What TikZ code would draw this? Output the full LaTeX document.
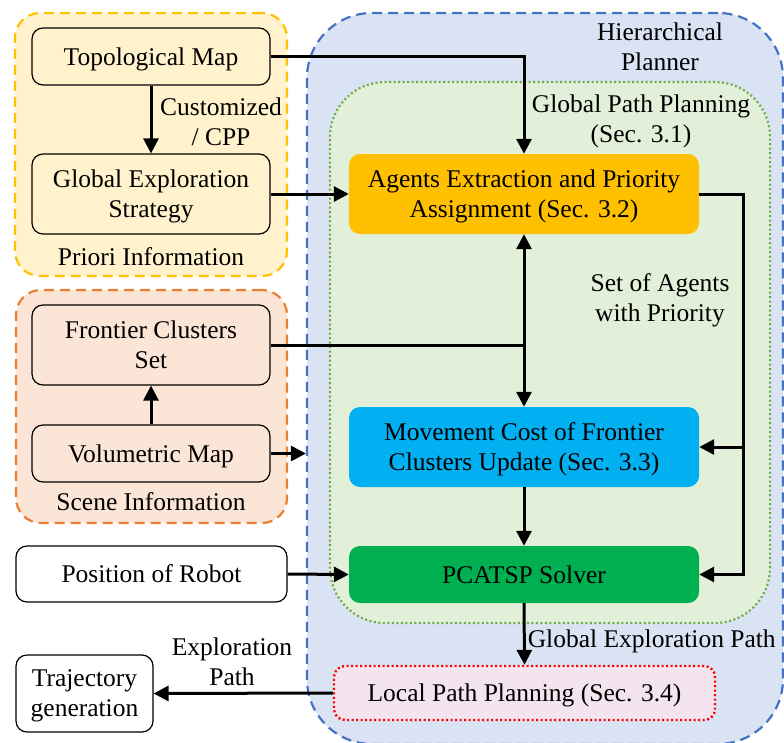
\documentclass[tikz,border=0pt]{standalone}
\usepackage{fontspec}
\setmainfont{Liberation Serif}
\usetikzlibrary{arrows.meta,positioning}
\definecolor{prioriFill}{HTML}{FFF2CC}
\definecolor{prioriLine}{HTML}{FFC000}
\definecolor{sceneFill}{HTML}{FBE5D6}
\definecolor{sceneLine}{HTML}{ED7D31}
\definecolor{plannerFill}{HTML}{DAE3F3}
\definecolor{plannerLine}{HTML}{4472C4}
\definecolor{globalFill}{HTML}{E2F0D9}
\definecolor{globalLine}{HTML}{70AD47}
\definecolor{agentsFill}{HTML}{FFC000}
\definecolor{moveFill}{HTML}{00B0F0}
\definecolor{solverFill}{HTML}{00B050}
\definecolor{localFill}{HTML}{F4E4EE}
\definecolor{localLine}{HTML}{FF0000}

\begin{document}
\begin{tikzpicture}[x=1pt, y=-1pt, >={Triangle[length=15pt,width=15pt]},
  font=\fontsize{25.5}{30}\selectfont,
  box/.style={draw=black, line width=1.2pt, rounded corners=11pt, align=center, inner sep=0pt, text depth=0pt},
  solidbox/.style={rounded corners=11pt, align=center, inner sep=0pt, text depth=0pt},
  group/.style={line width=2.2pt, dash pattern=on 10pt off 6pt, inner sep=0pt},
  dotgroup/.style={line width=2.2pt, dash pattern=on 2pt off 2.5pt, inner sep=0pt},
  link/.style={->, line width=3pt},
  ]
  \useasboundingbox (0,0) rectangle (784,742);

  % planner and global planning areas
  \node[group, draw=plannerLine, fill=plannerFill, rounded corners=65pt,
        minimum width=476pt, minimum height=731pt] (planner) at (545,378.5) {};
  \node[dotgroup, draw=globalLine, fill=globalFill, rounded corners=55pt,
        minimum width=440pt, minimum height=541pt] (global) at (550,352.5) {};
  \node at (660,47) [align=center] {Hierarchical\\Planner};
  \node at (641,121) [align=center] {Global Path Planning\\(Sec. 3.1)};

  % priori information
  \node[group, draw=prioriLine, fill=prioriFill, rounded corners=25pt,
        minimum width=272pt, minimum height=263pt] (priori) at (151,144.5) {};
  \node[box, fill=prioriFill, minimum width=238pt, minimum height=57pt] (topo) at (151,56.5) {Topological Map};
  \node[box, fill=prioriFill, minimum width=238pt, minimum height=80pt] (strat) at (151,194) {Global Exploration\\Strategy};
  \node at (151,257) {Priori Information};
  \node at (221,122) [align=center] {Customized\\/ CPP};

  % scene information
  \node[group, draw=sceneLine, fill=sceneFill, rounded corners=25pt,
        minimum width=271pt, minimum height=233pt] (scene) at (151.5,406.5) {};
  \node[box, fill=sceneFill, minimum width=238pt, minimum height=80pt] (frontier) at (151,345) {Frontier Clusters\\Set};
  \node[box, fill=sceneFill, minimum width=238pt, minimum height=57pt] (vol) at (151,453.5) {Volumetric Map};
  \node at (151,502) {Scene Information};

  % inputs and outputs
  \node[box, fill=white, minimum width=271pt, minimum height=56pt] (robot) at (151.5,574) {Position of Robot};
  \node[box, fill=white, minimum width=137pt, minimum height=77pt] (traj) at (84.5,693.5) {Trajectory\\generation};

  % planner modules
  \node[solidbox, fill=agentsFill, minimum width=350pt, minimum height=80pt] (agents) at (524,194) {Agents Extraction and Priority\\Assignment (Sec. 3.2)};
  \node[solidbox, fill=moveFill, minimum width=350pt, minimum height=80pt] (move) at (524,447) {Movement Cost of Frontier\\Clusters Update (Sec. 3.3)};
  \node[solidbox, fill=solverFill, minimum width=350pt, minimum height=57pt] (pcatsp) at (524,574.5) {PCATSP Solver};
  \node[box, draw=localLine, line width=2.4pt, dash pattern=on 2pt off 2.5pt, fill=localFill,
        minimum width=381pt, minimum height=54pt] (local) at (524.5,693) {Local Path Planning (Sec. 3.4)};
  \node at (660,300) [align=center] {Set of Agents\\with Priority};

  % connectors
  \draw[link] (topo.east) -| (agents.north);
  \draw[link] (topo.south) -- (strat.north);
  \draw[link] (strat.east) -- (agents.west);
  \draw[link] (vol.north) -- (frontier.south);
  \draw[link] (frontier.east) -| (agents.south);
  \coordinate (fjoin) at (frontier.east -| agents.south);
  \draw[link] (fjoin) -- (move.north);
  \draw[link] (vol.east) -- (vol.east -| planner.west);
  \draw[link] (agents.east) -- ++(44,0) |- (move.east);
  \draw[link] (agents.east) -- ++(44,0) |- (pcatsp.east);
  \draw[link] (move.south) -- (pcatsp.north);
  \draw[link] (robot.east) -- (pcatsp.west);
  \draw[link] (pcatsp.south) -- (local.north)
    node[pos=0.62, right=2pt, inner sep=0pt] {Global Exploration Path};
  \draw[link] (local.west) -- (traj.east);
  \node at (232,662) [align=center] {Exploration\\Path};
\end{tikzpicture}
\end{document}
